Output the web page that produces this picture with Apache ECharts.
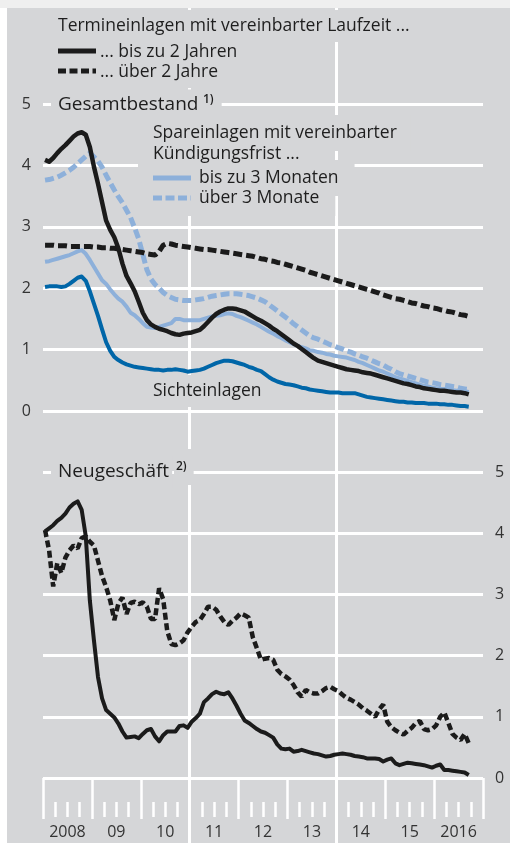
<!DOCTYPE html>
<html><head><meta charset="utf-8">
<script src="https://cdn.jsdelivr.net/npm/echarts@6/dist/echarts.min.js"></script>
<style>
html,body{margin:0;padding:0;background:#fff;}
#strip{position:absolute;left:0;top:0;width:510px;height:8px;background:#efefef;}
#bg{position:absolute;left:7px;top:8px;width:503px;height:835px;background:#d5d6d8;}
#chart{position:absolute;left:0;top:0;width:510px;height:843px;}
</style></head><body>
<div id="strip"></div><div id="bg"></div><div id="chart"></div>
<script>
// Monthly values, Jan 2008 .. Sep 2016 (105 months), % p.a.
// Gesamtbestand (outstanding amounts)
const gesTermBis2 = [4.09,4.06,4.12,4.20,4.27,4.33,4.40,4.47,4.52,4.54,
 4.50,4.30,3.98,3.70,3.40,3.10,2.95,2.83,2.65,2.40,
 2.20,2.08,1.95,1.78,1.60,1.48,1.41,1.37,1.34,1.32,
 1.30,1.27,1.25,1.24,1.26,1.27,1.28,1.30,1.32,1.38,
 1.45,1.52,1.58,1.62,1.65,1.67,1.67,1.66,1.64,1.62,
 1.58,1.54,1.50,1.47,1.43,1.39,1.34,1.30,1.25,1.20,
 1.15,1.10,1.06,1.01,0.96,0.91,0.86,0.82,0.80,0.78,
 0.76,0.74,0.72,0.70,0.68,0.67,0.66,0.65,0.63,0.62,
 0.61,0.59,0.57,0.55,0.53,0.51,0.49,0.47,0.45,0.44,
 0.42,0.40,0.39,0.37,0.36,0.35,0.34,0.33,0.33,0.32,
 0.31,0.30,0.30,0.29,0.27];
const gesTermUeber2 = [2.70,2.70,2.70,2.69,2.69,2.69,2.68,2.68,2.68,2.68,
 2.68,2.68,2.67,2.67,2.66,2.66,2.65,2.65,2.64,2.63,
 2.62,2.61,2.60,2.59,2.58,2.56,2.55,2.54,2.60,2.70,
 2.73,2.72,2.70,2.69,2.68,2.67,2.66,2.65,2.64,2.63,
 2.63,2.62,2.61,2.60,2.59,2.58,2.57,2.56,2.55,2.54,
 2.53,2.52,2.50,2.48,2.47,2.45,2.44,2.42,2.41,2.39,
 2.37,2.35,2.33,2.31,2.29,2.26,2.24,2.22,2.20,2.18,
 2.16,2.14,2.12,2.10,2.08,2.06,2.04,2.02,2.00,1.98,
 1.96,1.94,1.92,1.89,1.87,1.85,1.83,1.82,1.80,1.78,
 1.76,1.75,1.73,1.71,1.70,1.68,1.67,1.65,1.64,1.62,
 1.61,1.59,1.57,1.56,1.54];
const gesSparBis3M = [2.43,2.44,2.46,2.48,2.50,2.52,2.54,2.57,2.60,2.62,
 2.56,2.46,2.35,2.24,2.13,2.07,1.98,1.90,1.83,1.78,
 1.70,1.60,1.56,1.50,1.43,1.37,1.36,1.35,1.37,1.39,
 1.41,1.43,1.50,1.50,1.48,1.48,1.48,1.48,1.48,1.50,
 1.52,1.54,1.55,1.56,1.58,1.59,1.58,1.55,1.53,1.50,
 1.47,1.44,1.41,1.37,1.33,1.29,1.26,1.22,1.19,1.15,
 1.12,1.09,1.06,1.04,1.02,0.99,0.98,0.96,0.95,0.93,
 0.92,0.90,0.89,0.88,0.87,0.85,0.83,0.80,0.78,0.75,
 0.72,0.69,0.66,0.64,0.61,0.58,0.55,0.53,0.51,0.49,
 0.47,0.45,0.43,0.41,0.40,0.38,0.37,0.36,0.36,0.35,
 0.34,0.33,0.33,0.32,0.31];
const gesSparUeber3M = [3.76,3.77,3.79,3.81,3.84,3.88,3.92,3.97,4.03,4.09,
 4.15,4.20,4.14,4.07,3.97,3.84,3.72,3.60,3.49,3.39,
 3.27,3.15,2.98,2.80,2.55,2.30,2.15,2.06,2.00,1.93,
 1.88,1.85,1.82,1.81,1.80,1.80,1.80,1.81,1.82,1.83,
 1.85,1.87,1.88,1.89,1.90,1.91,1.91,1.91,1.90,1.89,
 1.88,1.86,1.84,1.81,1.78,1.73,1.68,1.63,1.58,1.53,
 1.48,1.42,1.37,1.32,1.27,1.22,1.19,1.17,1.14,1.11,
 1.08,1.06,1.03,1.01,0.98,0.96,0.93,0.91,0.88,0.86,
 0.83,0.80,0.77,0.75,0.71,0.68,0.64,0.61,0.59,0.57,
 0.55,0.53,0.51,0.49,0.47,0.46,0.45,0.43,0.42,0.41,
 0.40,0.39,0.37,0.36,0.35];
const gesSicht = [2.02,2.03,2.03,2.03,2.02,2.03,2.07,2.12,2.17,2.19,
 2.12,1.95,1.75,1.55,1.33,1.12,0.98,0.88,0.83,0.79,
 0.76,0.74,0.72,0.71,0.70,0.69,0.68,0.67,0.67,0.66,
 0.67,0.67,0.68,0.67,0.66,0.64,0.65,0.66,0.67,0.69,
 0.72,0.75,0.78,0.80,0.82,0.82,0.81,0.79,0.77,0.75,
 0.72,0.70,0.67,0.65,0.60,0.55,0.51,0.48,0.46,0.44,
 0.43,0.42,0.40,0.38,0.37,0.35,0.34,0.33,0.32,0.31,
 0.30,0.30,0.30,0.29,0.29,0.29,0.29,0.27,0.25,0.23,
 0.22,0.21,0.20,0.19,0.18,0.17,0.16,0.15,0.15,0.14,
 0.14,0.13,0.13,0.13,0.12,0.12,0.12,0.11,0.11,0.10,
 0.10,0.09,0.08,0.08,0.07];
// Neugeschäft (new business)
const neuTermBis2 = [4.03,4.08,4.13,4.20,4.25,4.32,4.42,4.48,4.52,4.38,
 3.95,2.90,2.25,1.65,1.30,1.11,1.05,0.99,0.89,0.76,
 0.66,0.67,0.68,0.65,0.72,0.78,0.80,0.68,0.60,0.70,
 0.76,0.76,0.76,0.85,0.86,0.82,0.92,0.98,1.05,1.24,
 1.30,1.37,1.41,1.38,1.37,1.40,1.30,1.18,1.05,0.94,
 0.90,0.85,0.80,0.76,0.74,0.70,0.66,0.55,0.48,0.47,
 0.48,0.43,0.44,0.46,0.44,0.42,0.40,0.39,0.37,0.35,
 0.36,0.38,0.39,0.40,0.39,0.38,0.36,0.35,0.34,0.32,
 0.32,0.32,0.31,0.27,0.30,0.32,0.24,0.21,0.23,0.25,
 0.24,0.23,0.22,0.21,0.19,0.17,0.20,0.22,0.13,0.13,
 0.12,0.11,0.10,0.09,0.05];
const neuTermUeber2 = [4.05,3.72,3.13,3.51,3.35,3.60,3.72,3.80,3.75,3.92,
 3.95,3.86,3.80,3.55,3.30,3.12,2.90,2.58,2.85,2.95,
 2.68,2.86,2.88,2.84,2.87,2.80,2.60,2.60,3.10,2.92,
 2.40,2.19,2.17,2.20,2.25,2.38,2.47,2.55,2.58,2.68,
 2.80,2.80,2.75,2.64,2.55,2.50,2.57,2.62,2.69,2.66,
 2.62,2.30,2.12,1.93,1.95,1.96,1.93,1.77,1.70,1.66,
 1.61,1.52,1.40,1.33,1.44,1.40,1.38,1.38,1.42,1.47,
 1.49,1.45,1.42,1.36,1.31,1.28,1.24,1.20,1.14,1.10,
 1.05,1.00,1.12,1.20,0.92,0.83,0.78,0.74,0.71,0.77,
 0.82,0.90,0.93,0.80,0.78,0.80,0.86,1.00,1.07,0.90,
 0.72,0.66,0.62,0.72,0.57];
const yearLabels = ['2008','09','10','11','12','13','14','15','2016'];
const yTicks = [0,1,2,3,4,5];

const FONT = '"Open Sans", sans-serif';
const TXT = '#1e1e1e';
const GREY = '#d5d6d8';
const BLACK = '#1b1b1b';
const LBLUE = '#8db0da';
const DBLUE = '#0066a8';

function pts(arr){ return arr.map((v,i)=>[i+0.5, v]); }
const labelPos = yearLabels.map((s,k)=>k*12+6);

// each label: a grey knock-out box (below) + the text itself (above)
function knock(text, x, y, size, pad, weight){
  const base = {text:text, fontFamily:FONT, fontSize:size, fontWeight:weight||'normal',
    align:'left', verticalAlign:'middle', padding:pad};
  return [
    {type:'text', x:x, y:y, z:1, silent:true, style:Object.assign({fill:'rgba(0,0,0,0)', backgroundColor:GREY}, base)},
    {type:'text', x:x, y:y, z:3, silent:true, style:Object.assign({fill:TXT}, base)}
  ];
}
function sample(x1,x2,y,color,width,dash){
  return {type:'line', z:5, silent:true, shape:{x1:x1,y1:y,x2:x2,y2:y},
    style:{stroke:color, lineWidth:width, lineDash:dash||null}};
}
const LS = 17.5;
const texts = [].concat(
  knock('Termineinlagen mit vereinbarter Laufzeit ...', 50, 26, LS, [7,10,7,8]),
  knock('... bis zu 2 Jahren', 92, 52, LS, [7,10,7,8]),
  knock('... über 2 Jahre', 92, 72, LS, [7,10,7,8]),
  knock('Gesamtbestand', 51, 105, 19, [6,3,6,7]),
  knock('1)', 201, 100, 12, [4,8,4,2], 600),
  knock('Spareinlagen mit vereinbarter', 138, 133, LS, [9,14,9,15]),
  knock('Kündigungsfrist ...', 138, 154, LS, [9,14,9,15]),
  knock('bis zu 3 Monaten', 183, 178, LS, [9,16,9,16]),
  knock('über 3 Monate', 183, 198, LS, [9,16,9,16]),
  knock('Sichteinlagen', 145, 391, LS, [7,10,7,8]),
  knock('Neugeschäft', 51, 472, 19, [6,3,6,7]),
  knock('2)', 174, 467, 12, [12,7,12,2], 600),
  [sample(58, 96, 51, BLACK, 5),
   sample(58, 96, 71, BLACK, 5, [8,3.5]),
   sample(153, 191, 178, LBLUE, 5),
   sample(153, 191, 198, LBLUE, 5, [9,3.5])]
);

const chart = echarts.init(document.getElementById('chart'), null, {renderer:'canvas'});
const axisLab = {color:'#333', fontSize:16, fontFamily:FONT};
chart.setOption({
  animation:false,
  backgroundColor:'transparent',
  textStyle:{fontFamily:FONT},
  grid:[
    {left:43, right:27, top:104, height:307},
    {left:43, right:27, top:472, height:306},
    {left:43, right:27, top:8, height:835}
  ],
  xAxis:[
    {gridIndex:0, type:'value', min:0, max:108, show:false},
    {gridIndex:1, type:'value', min:0, max:108, interval:12, position:'bottom', offset:24,
      axisLine:{show:false}, axisTick:{show:true, length:41, lineStyle:{color:'#fff', width:2.5}},
      axisLabel:{show:false}, splitLine:{show:false}},
    {gridIndex:1, type:'value', min:0, max:108, interval:3, position:'bottom', offset:24,
      axisLine:{show:false}, axisTick:{show:true, length:15, lineStyle:{color:'#fff', width:2.5}},
      axisLabel:Object.assign({show:true, customValues:labelPos, margin:22,
        formatter:(v)=>yearLabels[Math.round((v-6)/12)] || ''}, axisLab),
      splitLine:{show:false}},
    {gridIndex:2, type:'value', min:0, max:108, interval:36,
      axisLine:{show:false}, axisTick:{show:false}, axisLabel:{show:false},
      splitLine:{show:true, showMinLine:false, showMaxLine:false, lineStyle:{color:'#fff', width:3}}}
  ],
  yAxis:[
    {gridIndex:0, type:'value', min:0, max:5, interval:1, position:'left',
      axisLine:{show:false}, axisTick:{show:false},
      axisLabel:Object.assign({margin:12}, axisLab),
      splitLine:{lineStyle:{color:'#fff', width:3}}},
    {gridIndex:1, type:'value', min:0, max:5, interval:1, position:'right',
      axisLine:{show:false}, axisTick:{show:false},
      axisLabel:Object.assign({margin:12}, axisLab),
      splitLine:{lineStyle:{color:'#fff', width:3}}},
    {gridIndex:2, type:'value', min:0, max:1, show:false}
  ],
  graphic:{elements:texts},
  series:[
    {type:'line', xAxisIndex:0, yAxisIndex:0, data:pts(gesSparBis3M), symbol:'none', silent:true,
      lineStyle:{color:LBLUE, width:4, join:'round'}},
    {type:'line', xAxisIndex:0, yAxisIndex:0, data:pts(gesSparUeber3M), symbol:'none', silent:true,
      lineStyle:{color:LBLUE, width:5, type:[9,4]}},
    {type:'line', xAxisIndex:0, yAxisIndex:0, data:pts(gesSicht), symbol:'none', silent:true,
      lineStyle:{color:DBLUE, width:4, join:'round'}},
    {type:'line', xAxisIndex:0, yAxisIndex:0, data:pts(gesTermUeber2), symbol:'none', silent:true,
      lineStyle:{color:BLACK, width:5, type:[9,4]}},
    {type:'line', xAxisIndex:0, yAxisIndex:0, data:pts(gesTermBis2), symbol:'none', silent:true,
      lineStyle:{color:BLACK, width:4.5, join:'round'}},
    {type:'line', xAxisIndex:1, yAxisIndex:1, data:pts(neuTermUeber2), symbol:'none', silent:true,
      lineStyle:{color:BLACK, width:4.5, type:[7,3.5]}},
    {type:'line', xAxisIndex:1, yAxisIndex:1, data:pts(neuTermBis2), symbol:'none', silent:true,
      lineStyle:{color:BLACK, width:4, join:'round'}}
  ]
});
</script></body></html>
